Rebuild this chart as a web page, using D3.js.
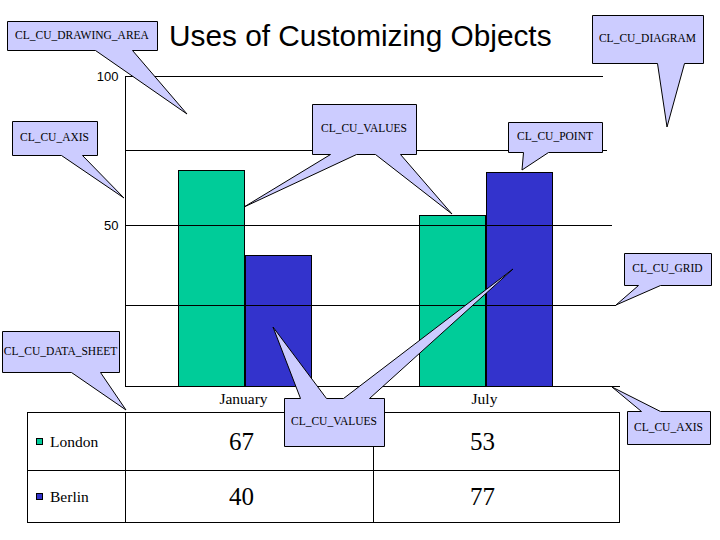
<!DOCTYPE html>
<meta charset="utf-8">
<head>
    <title>Uses of Customizing Objects</title>
    <script src="https://cdn.jsdelivr.net/npm/d3@7"></script>
</head>

<style>
    body { margin: 0; background: #fff; }
    .callout { fill: #ccccff; stroke: #000; stroke-width: 1; }
    .callout-text { font-family: "Liberation Serif", "Times New Roman", serif; font-size: 11.5px; }
    .grid { stroke: #000; stroke-width: 1; shape-rendering: crispEdges; }
    .bar { stroke: #000; stroke-width: 1; shape-rendering: crispEdges; }
</style>

<svg>
    <g></g>
</svg>

<script>
    // data
    var months = ["January", "July"];
    var cities = ["London", "Berlin"];
    var barLondon = [68.2, 53.2];   // bar heights as drawn
    var barBerlin = [40.5, 67.6];
    var sheetLondon = ["67", "53"]; // values printed in the data sheet
    var sheetBerlin = ["40", "77"];
    var yTicks = [0, 25, 50, 75, 100];
    var yLabels = [50, 100];
    var colors = ["#00cc99", "#3333cc"];

    var vWidth = 720;
    var vHeight = 540;
    var plotLeft = 124, plotRight = 620;

    var svg = d3.select('svg')
        .attr('width', vWidth)
        .attr('height', vHeight);
    var g = svg.select('g');

    // the value axis is not evenly spaced in the picture
    var y = d3.scaleLinear().domain(yTicks).range([386, 305, 225, 150, 76]);
    // grid lines get slightly shorter towards the top
    var gridRight = d3.scaleLinear().domain([0, 100]).range([plotRight, 603]);

    var x = d3.scaleBand().domain(months).range([plotLeft, 606])
        .paddingInner(0.45).paddingOuter(0.225);
    var xSub = d3.scaleBand().domain(cities).range([0, x.bandwidth()]);

    var series = [barLondon, barBerlin];
    var barData = [];
    months.forEach(function (m, i) {
        cities.forEach(function (c, j) {
            barData.push({month: m, city: c, value: series[j][i], color: colors[j]});
        });
    });

    // title
    g.append('text')
        .attr('x', 169).attr('y', 46)
        .style('font-family', '"Liberation Sans", Arial, sans-serif')
        .style('font-size', '29.8px')
        .text('Uses of Customizing Objects');

    // bars
    g.selectAll('rect.bar').data(barData).enter()
        .append('rect')
        .attr('class', 'bar')
        .attr('x', function (d) { return Math.round(x(d.month) + xSub(d.city)) + 0.5; })
        .attr('y', function (d) { return Math.round(y(d.value)) + 0.5; })
        .attr('width', function (d) { return Math.round(xSub.bandwidth()); })
        .attr('height', function (d) { return Math.round(y(0) - y(d.value)); })
        .attr('fill', function (d) { return d.color; });

    // grid lines sit on top of the bars
    g.selectAll('line.grid').data(yTicks).enter()
        .append('line')
        .attr('class', 'grid')
        .attr('x1', plotLeft + 0.5)
        .attr('x2', function (d) { return gridRight(d); })
        .attr('y1', function (d) { return Math.round(y(d)) + 0.5; })
        .attr('y2', function (d) { return Math.round(y(d)) + 0.5; });

    // value axis
    var yAxis = d3.axisLeft(y).tickValues(yLabels).tickSize(0).tickPadding(6);
    var ya = g.append('g')
        .attr('transform', 'translate(' + (plotLeft + 0.5) + ',0.5)')
        .call(yAxis);
    ya.select('.domain').attr('stroke', '#000').style('shape-rendering', 'crispEdges');
    ya.selectAll('text')
        .style('font-family', '"Liberation Sans", Arial, sans-serif')
        .style('font-size', '13px')
        .attr('fill', '#000');

    // category labels
    g.selectAll('text.month').data(months).enter()
        .append('text')
        .attr('x', function (d) { return x(d) + x.bandwidth() / 2 - 1; })
        .attr('y', 404)
        .attr('text-anchor', 'middle')
        .style('font-family', '"Liberation Serif", "Times New Roman", serif')
        .style('font-size', '15.5px')
        .text(function (d) { return d; });

    // data sheet
    var tTop = 412, tMid = 470, tBot = 522, tLeft = 27;
    var tMidX = (plotLeft + plotRight) / 2;
    var sheet = g.append('g').style('shape-rendering', 'crispEdges');
    sheet.append('rect')
        .attr('x', tLeft + 0.5).attr('y', tTop + 0.5)
        .attr('width', plotRight - 1 - tLeft).attr('height', tBot - tTop)
        .attr('fill', 'none').attr('stroke', '#000');
    sheet.append('line')
        .attr('x1', tLeft).attr('x2', plotRight - 1)
        .attr('y1', tMid + 0.5).attr('y2', tMid + 0.5).attr('stroke', '#000');
    [plotLeft + 1, tMidX + 1].forEach(function (cx) {
        sheet.append('line')
            .attr('x1', cx + 0.5).attr('x2', cx + 0.5)
            .attr('y1', tTop).attr('y2', tBot).attr('stroke', '#000');
    });

    var rowsY = [(tTop + tMid) / 2, (tMid + tBot) / 2];
    var sheetRows = [sheetLondon, sheetBerlin];
    cities.forEach(function (c, j) {
        var cy = rowsY[j];
        sheet.append('rect')
            .attr('x', 36.5).attr('y', Math.round(cy - 3) + 0.5)
            .attr('width', 6).attr('height', 6)
            .attr('fill', colors[j]).attr('stroke', '#000');
        g.append('text')
            .attr('x', 50).attr('y', cy + 5.5)
            .style('font-family', '"Liberation Serif", "Times New Roman", serif')
            .style('font-size', '15.5px')
            .text(c);
        months.forEach(function (m, i) {
            g.append('text')
                .attr('x', x(m) + x.bandwidth() / 2 - 3)
                .attr('y', cy + 9)
                .attr('text-anchor', 'middle')
                .style('font-family', '"Liberation Serif", "Times New Roman", serif')
                .style('font-size', '25px')
                .text(sheetRows[j][i]);
        });
    });

    // callouts: box [x0, y0, x1, y1] plus tails (side, base from a to b, tip)
    var callouts = [
        {label: "CL_CU_DRAWING_AREA", box: [7, 21, 157, 50], tails: [{side: "bottom", a: 95, b: 132, tip: [187, 114]}]},
        {label: "CL_CU_AXIS", box: [12, 121, 97, 155], tails: [{side: "bottom", a: 61, b: 82, tip: [124, 198]}]},
        {label: "CL_CU_VALUES", box: [312, 104, 416, 154], tails: [
            {side: "bottom", a: 330, b: 356, tip: [244, 207]},
            {side: "bottom", a: 375, b: 400, tip: [452, 214]}]},
        {label: "CL_CU_POINT", box: [508, 122, 602, 152], tails: [{side: "bottom", a: 523, b: 548, tip: [522, 170]}]},
        {label: "CL_CU_DIAGRAM", box: [592, 15, 703, 63], tails: [{side: "bottom", a: 657, b: 684, tip: [667, 127]}]},
        {label: "CL_CU_GRID", box: [624, 253, 711, 285], tails: [{side: "bottom", a: 638, b: 660, tip: [616, 305]}]},
        {label: "CL_CU_AXIS", box: [627, 411, 710, 444], tails: [{side: "top", a: 641, b: 660, tip: [612, 387]}]},
        {label: "CL_CU_DATA_SHEET", box: [2, 331, 119, 372], tails: [{side: "bottom", a: 71, b: 100, tip: [126, 410]}]},
        {label: "CL_CU_VALUES", box: [284, 398, 384, 446], tails: [
            {side: "top", a: 300, b: 326, tip: [273, 327]},
            {side: "top", a: 343, b: 369, tip: [513, 269]}]}
    ];

    function calloutPath(c) {
        var b = c.box.map(function (v) { return v + 0.5; });
        var p = d3.path();
        p.moveTo(b[0], b[1]);
        c.tails.filter(function (t) { return t.side === "top"; })
            .sort(function (s, t) { return s.a - t.a; })
            .forEach(function (t) {
                p.lineTo(t.a + 0.5, b[1]);
                p.lineTo(t.tip[0], t.tip[1]);
                p.lineTo(t.b + 0.5, b[1]);
            });
        p.lineTo(b[2], b[1]);
        p.lineTo(b[2], b[3]);
        c.tails.filter(function (t) { return t.side === "bottom"; })
            .sort(function (s, t) { return t.a - s.a; })
            .forEach(function (t) {
                p.lineTo(t.b + 0.5, b[3]);
                p.lineTo(t.tip[0], t.tip[1]);
                p.lineTo(t.a + 0.5, b[3]);
            });
        p.lineTo(b[0], b[3]);
        p.closePath();
        return p.toString();
    }

    var co = g.selectAll('g.callout').data(callouts).enter().append('g');
    co.append('path')
        .attr('class', 'callout')
        .attr('d', calloutPath);
    co.append('text')
        .attr('class', 'callout-text')
        .attr('x', function (d) { return (d.box[0] + d.box[2]) / 2; })
        .attr('y', function (d) { return (d.box[1] + d.box[3]) / 2 + 3; })
        .attr('text-anchor', 'middle')
        .text(function (d) { return d.label; });
</script>
